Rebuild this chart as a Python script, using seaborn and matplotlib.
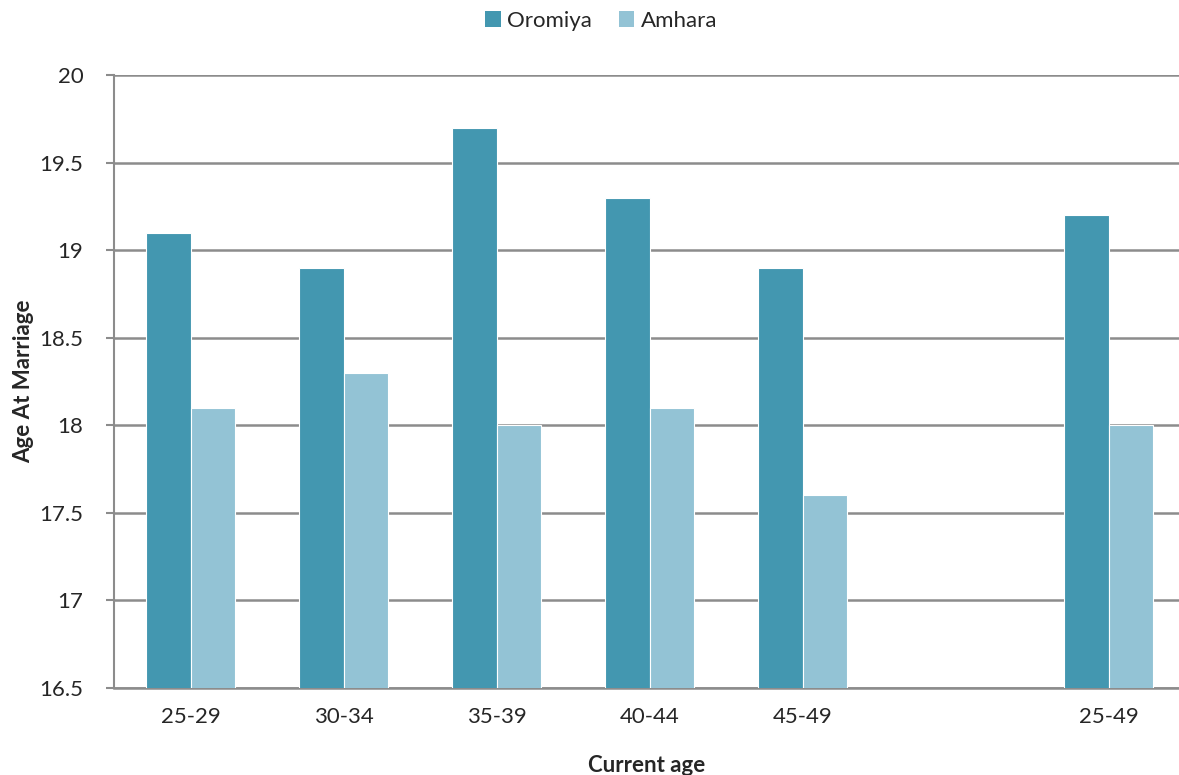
import numpy as np
import pandas as pd
import matplotlib
matplotlib.use("Agg")
import matplotlib.pyplot as plt
import seaborn as sns
from matplotlib.patches import Patch

# Mean age at first marriage by current age group
age_groups = ["25-29", "30-34", "35-39", "40-44", "45-49", " ", "25-49"]
oromiya = [19.1, 18.9, 19.7, 19.3, 18.9, np.nan, 19.2]
amhara = [18.1, 18.3, 18.0, 18.1, 17.6, np.nan, 18.0]
regions = ["Oromiya", "Amhara"]
colors = ["#4397B0", "#93C3D5"]

df = pd.DataFrame({
    "age": age_groups * 2,
    "region": [regions[0]] * len(age_groups) + [regions[1]] * len(age_groups),
    "value": oromiya + amhara,
})

sns.set_theme(style="white")
plt.rcParams["font.family"] = ["Lato", "DejaVu Sans"]

fig = plt.figure(figsize=(11.79, 7.75), dpi=100)
ax = fig.add_axes([114 / 1179, 1 - 688 / 775, 1 - 114 / 1179, (688 - 75) / 775])

sns.barplot(data=df, x="age", y="value", hue="region", order=age_groups,
            hue_order=regions, palette=colors, width=0.58, ax=ax,
            errorbar=None, edgecolor="white", linewidth=0.8, legend=False,
            saturation=1, zorder=3)

ax.set_ylim(16.5, 20)
ax.set_yticks(np.arange(16.5, 20.01, 0.5))
ax.set_yticklabels(["16.5", "17", "17.5", "18", "18.5", "19", "19.5", "20"])
ax.set_xlim(-0.5, 6.46)

ax.yaxis.grid(True, color="#8C8C8C", linewidth=1.8, zorder=0)
ax.set_axisbelow(True)
for s in ["top", "right"]:
    ax.spines[s].set_visible(False)
ax.spines["left"].set_color("#8C8C8C")
ax.spines["left"].set_linewidth(1.5)
ax.spines["bottom"].set_color("#8C8C8C")
ax.spines["bottom"].set_linewidth(1.8)

ax.tick_params(axis="y", which="major", length=6, width=1.5, color="#8C8C8C",
               labelsize=16, pad=16, left=True)
ax.tick_params(axis="x", length=0, labelsize=16, pad=14)

ax.set_xlabel("Current age", fontsize=16, fontweight="bold", labelpad=20)
ax.set_ylabel("Age At Marriage", fontsize=16, fontweight="bold", labelpad=4)

handles = [Patch(facecolor=c, edgecolor="none", label=r) for c, r in zip(colors, regions)]
fig.legend(handles=handles, loc="center", bbox_to_anchor=(0.51, 0.973), ncol=2,
           frameon=False, fontsize=16, handlelength=0.7, handleheight=0.7,
           handletextpad=0.3, columnspacing=1.2)

fig.savefig("out.png", dpi=100)
